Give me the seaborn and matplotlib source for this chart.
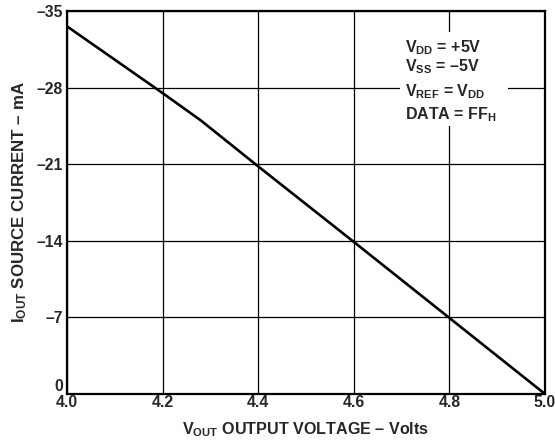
import matplotlib

matplotlib.use("Agg")
import matplotlib.pyplot as plt
import pandas as pd
import seaborn as sns
from matplotlib.patches import Rectangle

# values
VOUT = [4.0, 4.2, 4.28, 4.4, 4.6, 4.8, 5.0]
IOUT = [-33.6, -27.5, -25.0, -20.8, -13.9, -6.95, 0.0]

X_TICKS = [4.0, 4.2, 4.4, 4.6, 4.8, 5.0]
Y_TICKS = [0, -7, -14, -21, -28, -35]

CONDITIONS = [
    r"$\mathbf{V_{DD}}$ = +5V",
    r"$\mathbf{V_{SS}}$ = –5V",
    r"$\mathbf{V_{REF}}$ = $\mathbf{V_{DD}}$",
    r"DATA = $\mathbf{FF_{H}}$",
]


def configure_style() -> None:
    sns.set_style("white")
    plt.rcParams["font.family"] = ["Liberation Sans", "DejaVu Sans"]
    plt.rcParams["font.weight"] = "bold"
    plt.rcParams["mathtext.fontset"] = "custom"
    plt.rcParams["mathtext.rm"] = "Liberation Sans:bold"
    plt.rcParams["mathtext.bf"] = "Liberation Sans:bold"
    plt.rcParams["mathtext.it"] = "Liberation Sans:bold"


def main() -> None:
    configure_style()
    frame = pd.DataFrame({"vout": VOUT, "iout": IOUT})

    fig = plt.figure(figsize=(5.55, 4.42), dpi=100)
    ax = fig.add_axes([0.1207, 0.1086, 0.8613, 0.8665])

    sns.lineplot(data=frame, x="vout", y="iout", color="black", linewidth=1.9, ax=ax, zorder=5)

    ax.set_xlim(4.0, 5.0)
    ax.set_ylim(0, -35)
    ax.set_xticks(X_TICKS)
    ax.set_yticks(Y_TICKS)
    ax.set_xticklabels([f"{v:.1f}" for v in X_TICKS], fontsize=11.3, fontweight="bold")
    ax.set_yticklabels([f"{v}".replace("-", "\u2013") for v in Y_TICKS], fontsize=11.3, fontweight="bold")
    ax.tick_params(axis="y", length=0, pad=3)
    ax.tick_params(axis="x", length=0, pad=1)
    ax.get_yticklabels()[0].set_va("bottom")

    ax.grid(True, color="black", linewidth=0.9)
    for spine in ax.spines.values():
        spine.set_color("black")
        spine.set_linewidth(1.6)

    ax.set_xlabel(r"$\mathbf{V_{OUT}}$ OUTPUT VOLTAGE – Volts", fontsize=11.6, fontweight="bold", labelpad=7)
    ax.set_ylabel(r"$\mathbf{I_{OUT}}$ SOURCE CURRENT – mA", fontsize=12.2, fontweight="bold", labelpad=5)

    # white box masking the grid behind the test conditions
    ax.add_patch(Rectangle((0.697, 0.700), 0.226, 0.245, transform=ax.transAxes,
                           facecolor="white", edgecolor="none", zorder=3))
    baselines = [0.893, 0.842, 0.778, 0.718]
    for text, y in zip(CONDITIONS, baselines):
        ax.text(0.707, y, text, transform=ax.transAxes, fontsize=11.5, fontweight="bold",
                va="baseline", ha="left", zorder=4)

    fig.savefig("out.png", dpi=100)
    plt.close(fig)


if __name__ == "__main__":
    main()
